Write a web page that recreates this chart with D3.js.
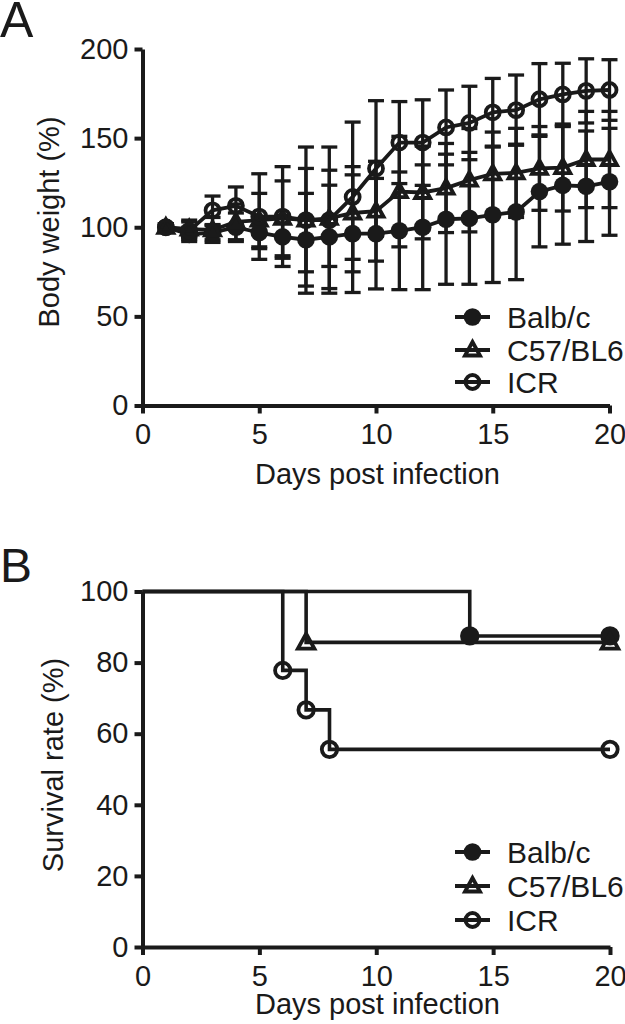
<!DOCTYPE html>
<html><head><meta charset="utf-8">
<script src="https://cdn.jsdelivr.net/npm/d3@7"></script>
<style>
body{margin:0;background:#fff}
text{font-family:"Liberation Sans",Arial,sans-serif;fill:#1a1a1a}
</style>
</head><body>
<svg id="chart" width="625" height="1024"></svg>
<script>
// ---------- Panel A: body weight ----------
const days = [1,2,3,4,5,6,7,8,9,10,11,12,13,14,15,16,17,18,19,20];
const balbMean = [100,96,97,100,97,94.6,93,94.6,96.4,96.4,98,100,104.5,105,107,108.6,120,123.5,123,125.5];
const balbSD   = [2,4,4,8,9,12,26,29,33,31,33,35,36.5,37,38,38,31,33,31,30];
const c57Mean  = [100,99,98.5,103,104,105,104,105,108,109,120,119.5,122,126.4,130,130.5,133,133.5,138,138];
const c57SD    = [2,5,7,10,15,21,29,27,26,28,31,26,25,29,23.4,25,23.5,24.4,27,27];
const icrMean  = [100,98,109.5,112,106,106,104,104,117,133,147.5,147.5,156,158.5,164.5,165.7,171.8,174.5,176.5,177];
const icrSD    = [2,5,8,10.6,24,28,41,41,42,38,23,24,21,20.6,19,19.7,20,17.5,18,17];
const weightYTicks = [0,50,100,150,200];
const dayTicks = [0,5,10,15,20];

// ---------- Panel B: survival ----------
const balbSurvDays = [0,14,20];
const balbSurv     = [100,87.5,87.5];
const c57SurvDays  = [0,7,20];
const c57Surv      = [100,85.7,85.7];
const icrSurvDays  = [0,6,7,8,20];
const icrSurv      = [100,77.8,66.7,55.6,55.6];
const survYTicks = [0,20,40,60,80,100];

const seriesNames = ["Balb/c","C57/BL6","ICR"];
const symbols = ["filled","triangle","open"];

const INK = "#1a1a1a";
const svg = d3.select("#chart");

function marker(g, type, x, y, k){
  k = k || 1;
  if(type==="filled"){
    g.append("circle").attr("cx",x).attr("cy",y).attr("r",8.8*k).attr("fill",INK);
  } else if(type==="open"){
    g.append("circle").attr("cx",x).attr("cy",y).attr("r",7*k).attr("fill","none")
      .attr("stroke",INK).attr("stroke-width",3.8);
  } else {
    const s = 7.5*k;
    g.append("path").attr("d",`M${x},${y-s-0.5}L${x+s},${y+s-2}L${x-s},${y+s-2}Z`)
      .attr("fill","none").attr("stroke",INK).attr("stroke-width",3.8).attr("stroke-linejoin","miter");
  }
}

function styleAxis(g){
  g.select(".domain").attr("stroke",INK).attr("stroke-width",4);
  g.selectAll(".tick line").attr("stroke",INK).attr("stroke-width",4);
  g.selectAll(".tick text").attr("font-size",29).attr("fill",INK)
    .attr("font-family",'"Liberation Sans",Arial,sans-serif');
}

function legend(g, x0, ys, k){
  seriesNames.forEach((n,i)=>{
    const y = ys[i];
    g.append("line").attr("x1",x0).attr("x2",x0+35).attr("y1",y).attr("y2",y)
      .attr("stroke",INK).attr("stroke-width",3.8);
    marker(g, symbols[i], x0+17.5, y, k);
    g.append("text").attr("x",x0+52).attr("y",y+10.5).attr("font-size",30).text(n);
  });
}

// ===== Panel A =====
{
  const x = d3.scaleLinear().domain([0,20]).range([142.5,609.5]);
  const y = d3.scaleLinear().domain([0,200]).range([405.5,49]);
  const gA = svg.append("g");
  gA.append("text").attr("x",0).attr("y",37).attr("font-size",50).text("A");

  const gx = gA.append("g").attr("transform","translate(0,405.5)")
    .call(d3.axisBottom(x).tickValues(dayTicks).tickSize(8).tickSizeOuter(0).tickPadding(10));
  styleAxis(gx);
  const gy = gA.append("g").attr("transform","translate(142.5,0)")
    .call(d3.axisLeft(y).tickValues(weightYTicks).tickSize(8).tickSizeOuter(0).tickPadding(6));
  styleAxis(gy);

  gA.append("text").attr("transform","translate(59,222) rotate(-90)")
    .attr("text-anchor","middle").attr("font-size",29).text("Body weight (%)");
  gA.append("text").attr("x",377.5).attr("y",484).attr("text-anchor","middle")
    .attr("font-size",29).text("Days post infection");

  const series = [
    {m:balbMean, sd:balbSD, sym:"filled"},
    {m:c57Mean, sd:c57SD, sym:"triangle"},
    {m:icrMean, sd:icrSD, sym:"open"}
  ];
  const cap = 8;
  series.forEach(s=>{
    const eb = gA.append("g").attr("stroke",INK).attr("stroke-width",3.3);
    days.forEach((d,i)=>{
      const xx = x(d), hi = y(s.m[i]+s.sd[i]), lo = y(s.m[i]-s.sd[i]);
      eb.append("line").attr("x1",xx).attr("x2",xx).attr("y1",hi).attr("y2",lo);
      eb.append("line").attr("x1",xx-cap).attr("x2",xx+cap).attr("y1",hi).attr("y2",hi);
      eb.append("line").attr("x1",xx-cap).attr("x2",xx+cap).attr("y1",lo).attr("y2",lo);
    });
  });
  series.forEach(s=>{
    const line = d3.line().x((d,i)=>x(d)).y((d,i)=>y(s.m[i]));
    gA.append("path").datum(days).attr("d",line).attr("fill","none")
      .attr("stroke",INK).attr("stroke-width",3.8);
  });
  series.forEach(s=>{
    const mg = gA.append("g");
    days.forEach((d,i)=>marker(mg, s.sym, x(d), y(s.m[i]), 1));
  });
  legend(gA, 455, [317,350,382], 1);
}

// ===== Panel B =====
{
  const x = d3.scaleLinear().domain([0,20]).range([142.5,610]);
  const y = d3.scaleLinear().domain([0,100]).range([947,591.5]);
  const gB = svg.append("g");
  gB.append("text").attr("x",0).attr("y",582).attr("font-size",48).text("B");

  const gx = gB.append("g").attr("transform","translate(0,947)")
    .call(d3.axisBottom(x).tickValues(dayTicks).tickSize(8).tickSizeOuter(0).tickPadding(10));
  styleAxis(gx);
  const gy = gB.append("g").attr("transform","translate(142.5,0)")
    .call(d3.axisLeft(y).tickValues(survYTicks).tickSize(8).tickSizeOuter(0).tickPadding(6));
  styleAxis(gy);

  gB.append("text").attr("transform","translate(63,765) rotate(-90)")
    .attr("text-anchor","middle").attr("font-size",29).text("Survival rate (%)");
  gB.append("text").attr("x",377.5).attr("y",1014).attr("text-anchor","middle")
    .attr("font-size",29).text("Days post infection");

  const surv = [
    {t:balbSurvDays, v:balbSurv, sym:"filled"},
    {t:c57SurvDays, v:c57Surv, sym:"triangle"},
    {t:icrSurvDays, v:icrSurv, sym:"open"}
  ];
  surv.forEach(s=>{
    const line = d3.line().curve(d3.curveStepAfter).x((d,i)=>x(d)).y((d,i)=>y(s.v[i]));
    gB.append("path").datum(s.t).attr("d",line).attr("fill","none")
      .attr("stroke",INK).attr("stroke-width",3.6);
  });
  surv.forEach(s=>{
    const mg = gB.append("g");
    s.t.forEach((d,i)=>{ if(i>0) marker(mg, s.sym, x(d), y(s.v[i]), 1.1); });
  });
  legend(gB, 455, [852,886,920], 1);
}
</script>
</body></html>
